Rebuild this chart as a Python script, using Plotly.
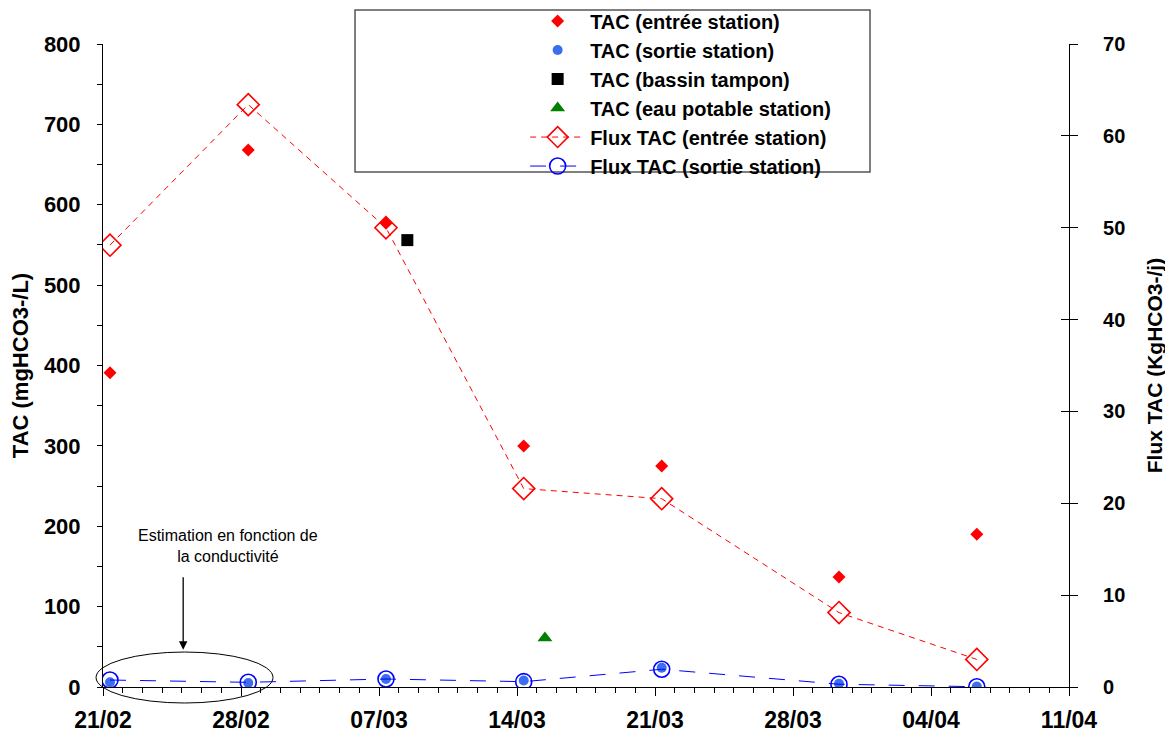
import plotly.graph_objects as go

# sampling dates at the station
dates_station = ['2011-02-21 08:30', '2011-02-28 08:50', '2011-03-07 08:30', '2011-03-14 08:10',
                 '2011-03-21 08:10', '2011-03-30 08:00', '2011-04-06 07:45']
tac_entree = [391, 668, 577, 300, 275, 137, 190]
tac_sortie = [6, 5, 10, 8, 24, 4, 0.5]
flux_entree = [48.1, 63.4, 50.0, 21.6, 20.5, 8.1, 3.0]
flux_sortie = [0.76, 0.51, 0.87, 0.58, 1.93, 0.3, 0.03]

date_bassin = ['2011-03-08 10:30']
tac_bassin = [556]
date_potable = ['2011-03-15 10:00']
tac_potable = [61]

tick_dates = ['2011-02-21', '2011-02-28', '2011-03-07', '2011-03-14',
              '2011-03-21', '2011-03-28', '2011-04-04', '2011-04-11']
tick_labels = ['21/02', '28/02', '07/03', '14/03', '21/03', '28/03', '04/04', '11/04']

font_main = 'Arial, Liberation Sans, sans-serif'

fig = go.Figure()

fig.add_trace(go.Scatter(x=dates_station, y=tac_entree, mode='markers',
    name='TAC (entrée station)',
    marker=dict(symbol='diamond', color='#ff0000', size=10)))
fig.add_trace(go.Scatter(x=dates_station, y=tac_sortie, mode='markers',
    name='TAC (sortie station)',
    marker=dict(symbol='circle', color='#3a6df0', size=10)))
fig.add_trace(go.Scatter(x=date_bassin, y=tac_bassin, mode='markers',
    name='TAC (bassin tampon)',
    marker=dict(symbol='square', color='#000000', size=12)))
fig.add_trace(go.Scatter(x=date_potable, y=tac_potable, mode='markers',
    name='TAC (eau potable station)',
    marker=dict(symbol='triangle-up', color='#008000', size=13)))
fig.add_trace(go.Scatter(x=dates_station, y=flux_entree, mode='lines+markers',
    name='Flux TAC (entrée station)', yaxis='y2',
    line=dict(color='#ff0000', width=1, dash='6px,5px'),
    marker=dict(symbol='diamond-open', color='#ff0000', size=17, line=dict(width=1.6))))
fig.add_trace(go.Scatter(x=dates_station, y=flux_sortie, mode='lines+markers',
    name='Flux TAC (sortie station)', yaxis='y2',
    line=dict(color='#0000ff', width=1, dash='16px,14px'),
    marker=dict(symbol='circle-open', color='#0000ff', size=16, line=dict(width=1.6))))
# empty trace so the inner ticks of the right axis get drawn
fig.add_trace(go.Scatter(x=[], y=[], yaxis='y3', showlegend=False, hoverinfo='skip'))

# page body adds 8px, so the figure is a bit smaller than the window
fig.update_layout(
    width=1165, height=725,
    margin=dict(l=95, r=104, t=36, b=46, autoexpand=False),
    paper_bgcolor='white', plot_bgcolor='white',
    font=dict(family=font_main, color='black'),
    showlegend=True,
    legend=dict(x=0.437, y=1.066, xanchor='left', yanchor='top',
                font=dict(size=20, family=font_main, weight='bold'),
                bgcolor='rgba(0,0,0,0)', itemwidth=55, tracegroupgap=0),
    xaxis=dict(type='date', range=['2011-02-21', '2011-04-11'],
               tickvals=tick_dates, ticktext=tick_labels,
               showgrid=False, zeroline=False, showline=True, linecolor='black', linewidth=1,
               ticks='outside', ticklen=8, tickcolor='black', ticklabelstandoff=4,
               tickfont=dict(size=23, weight='bold'),
               minor=dict(dtick=86400000, ticks='outside', ticklen=5, tickcolor='black')),
    yaxis=dict(range=[0, 800], dtick=100, showgrid=False, zeroline=False,
               showline=True, linecolor='black', linewidth=1,
               ticks='outside', ticklen=5, tickcolor='black', ticklabelstandoff=12,
               tickfont=dict(size=22, weight='bold'),
               minor=dict(dtick=50, ticks='outside', ticklen=5, tickcolor='black'),
               title=dict(text='TAC (mgHCO3-/L)', font=dict(size=22, weight='bold'), standoff=10)),
    yaxis2=dict(range=[0, 70], dtick=10, overlaying='y', side='right', showgrid=False,
                zeroline=False, showline=True, linecolor='black', linewidth=1,
                ticks='outside', ticklen=8, tickcolor='black', ticklabelstandoff=10,
                tickprefix='\u00a0\u00a0',
                tickfont=dict(size=20, weight='bold'),
                title=dict(text='Flux TAC (KgHCO3-/j)', font=dict(size=21, weight='bold'), standoff=22)),
    yaxis3=dict(range=[0, 70], dtick=10, overlaying='y', side='right', showgrid=False,
                zeroline=False, showline=False, ticks='inside', ticklen=8, tickcolor='black',
                showticklabels=False),
)

# legend frame
fig.add_shape(type='rect', xref='paper', yref='paper', x0=0.2609, x1=0.794, y0=0.801, y1=1.0529,
              line=dict(color='#555555', width=1.5), fillcolor='white', layer='below')

# annotation about estimated values
fig.add_shape(type='circle', xref='paper', yref='paper', x0=-0.0072, x1=0.176, y0=-0.0249, y1=0.0544,
              line=dict(color='black', width=1))
fig.add_annotation(xref='paper', yref='paper', x=0.129, y=0.219, xanchor='center', yanchor='middle',
                   showarrow=False, text='Estimation en fonction de<br>la conductivité',
                   font=dict(size=16, family=font_main), align='center')
fig.add_annotation(xref='paper', yref='paper', x=0.083, y=0.058, ax=0, ay=-74,
                   showarrow=True, arrowhead=2, arrowsize=1.3,
                   arrowwidth=1.3, arrowcolor='black', text='')

fig.write_html("out.html")
